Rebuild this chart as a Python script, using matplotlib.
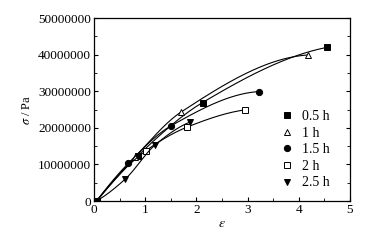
import numpy as np
import matplotlib
matplotlib.use("Agg")
import matplotlib.pyplot as plt
from matplotlib.ticker import MultipleLocator, FuncFormatter

plt.rcParams['font.family'] = ['Liberation Serif', 'DejaVu Serif']
plt.rcParams['mathtext.fontset'] = 'stix'

labels = ['0.5 h', '1 h', '1.5 h', '2 h', '2.5 h']
eps_05 = [0.05, 0.85, 2.12, 4.56]
sig_05 = [0, 12.3e6, 26.9e6, 42.0e6]
eps_10 = [0.05, 0.80, 1.70, 4.18]
sig_10 = [0, 12.0e6, 24.3e6, 39.9e6]
eps_15 = [0.05, 0.67, 1.50, 3.22]
sig_15 = [0, 10.3e6, 20.5e6, 29.9e6]
eps_20 = [0.05, 1.01, 1.82, 2.95]
sig_20 = [0, 13.7e6, 20.2e6, 24.9e6]
eps_25 = [0.05, 0.61, 1.20, 1.88]
sig_25 = [0, 6.0e6, 15.4e6, 21.6e6]

series = [(eps_05, sig_05), (eps_10, sig_10), (eps_15, sig_15), (eps_20, sig_20), (eps_25, sig_25)]
styles = [dict(marker='s', mfc='black', ms=4.3),
          dict(marker='^', mfc='white', ms=5),
          dict(marker='o', mfc='black', ms=4.5),
          dict(marker='s', mfc='white', ms=3.8),
          dict(marker='v', mfc='black', ms=5)]


def pchip(x, y, xs):
    x = np.asarray(x, float); y = np.asarray(y, float)
    h = np.diff(x); d = np.diff(y) / h
    n = len(x)
    m = np.zeros(n)
    for k in range(1, n - 1):
        if d[k - 1] * d[k] > 0:
            w1 = 2 * h[k] + h[k - 1]; w2 = h[k] + 2 * h[k - 1]
            m[k] = (w1 + w2) / (w1 / d[k - 1] + w2 / d[k])
    m[0] = max(0.0, ((2 * h[0] + h[1]) * d[0] - h[0] * d[1]) / (h[0] + h[1]))
    m[-1] = max(0.0, ((2 * h[-1] + h[-2]) * d[-1] - h[-1] * d[-2]) / (h[-1] + h[-2]))
    idx = np.clip(np.searchsorted(x, xs) - 1, 0, n - 2)
    t = (xs - x[idx]) / h[idx]
    h00 = 2 * t**3 - 3 * t**2 + 1; h10 = t**3 - 2 * t**2 + t
    h01 = -2 * t**3 + 3 * t**2; h11 = t**3 - t**2
    return h00 * y[idx] + h10 * h[idx] * m[idx] + h01 * y[idx + 1] + h11 * h[idx] * m[idx + 1]


fig = plt.figure(figsize=(3.75, 2.4), dpi=100)
ax = fig.add_axes([0.2507, 0.1625, 0.6826, 0.7625])

for (x, y), st, lab in zip(series, styles, labels):
    xs = np.linspace(x[0], x[-1], 300)
    ax.plot(xs, pchip(x, y, xs), color='black', lw=0.8)
    ax.plot(x, y, linestyle='none', color='black', mec='black', mew=0.7, label=lab, **st)

ax.set_xlim(0, 5)
ax.set_ylim(0, 50e6)
ax.xaxis.set_major_locator(MultipleLocator(1))
ax.xaxis.set_minor_locator(MultipleLocator(0.5))
ax.yaxis.set_major_locator(MultipleLocator(10e6))
ax.yaxis.set_minor_locator(MultipleLocator(5e6))
ax.yaxis.set_major_formatter(FuncFormatter(lambda v, p: f"{int(round(v))}"))
ax.tick_params(which='both', direction='in', top=False, right=True, labelsize=9.5, pad=2)
ax.tick_params(which='major', length=3)
ax.tick_params(which='minor', length=2)
for s in ax.spines.values():
    s.set_linewidth(0.9)

ax.set_xlabel(r'$\varepsilon$', fontsize=10, labelpad=1)
ax.set_ylabel(r'$\sigma$ / Pa', fontsize=9, labelpad=4)

ax.legend(loc='center', bbox_to_anchor=(0.82, 0.28), frameon=False, fontsize=10,
          handletextpad=0.5, labelspacing=0.26, handlelength=1.2, borderaxespad=0.3)

fig.savefig('out.png', dpi=100)
